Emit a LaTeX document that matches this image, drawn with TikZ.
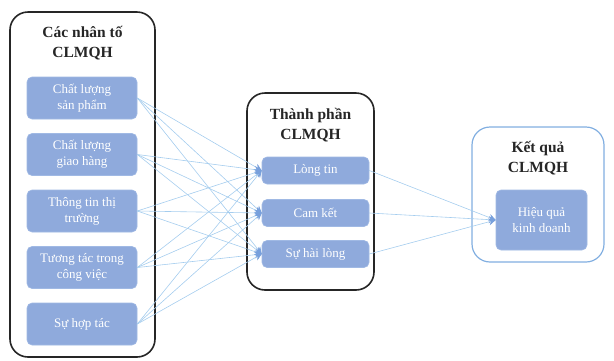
\documentclass[tikz,border=0pt]{standalone}
\usepackage{fontspec}
\setmainfont{Liberation Serif}
\usetikzlibrary{arrows.meta}
\definecolor{boxfill}{RGB}{143,170,220}
\definecolor{boxline}{RGB}{160,185,228}
\definecolor{linkblue}{RGB}{165,205,238}
\definecolor{tipblue}{RGB}{120,160,220}
\definecolor{frameblue}{RGB}{130,175,225}
\tikzset{
  group/.style={draw=black!85, line width=1.6pt, rounded corners=18pt, fill=white},
  groupblue/.style={draw=frameblue, line width=1.2pt, rounded corners=18pt, fill=white},
  grouptitle/.style={font=\bfseries\fontsize{15.5}{20}\selectfont, align=center, text=black!85},
  item/.style={draw=boxline, line width=0.6pt, fill=boxfill, rounded corners=5pt,
    text=white, align=center, font=\fontsize{13}{16}\selectfont, inner sep=0pt},
  link/.style={draw=linkblue, line width=0.6pt, -{Stealth[length=7pt,width=7pt,color=tipblue]}}
}
\begin{document}
\begin{tikzpicture}[x=1pt,y=-1pt]
\useasboundingbox (0,0) rectangle (614,360);
% containers
\node[group, minimum width=145pt, minimum height=345pt] (gA) at (82.5,184.5) {};
\node[group, minimum width=127pt, minimum height=197pt] (gB) at (310.5,191.5) {};
\node[groupblue, minimum width=132pt, minimum height=135pt] (gC) at (538,194.5) {};
% titles
\node[grouptitle] (tA) at (82.5,43) {Các nhân tố\\CLMQH};
\node[grouptitle] (tB) at (310.5,125) {Thành phần\\CLMQH};
\node[grouptitle] (tC) at (538,158) {Kết quả\\CLMQH};
% factors
\node[item, minimum width=110pt, minimum height=42pt] (l1) at (82,98) {Chất lượng\\sản phẩm};
\node[item, minimum width=110pt, minimum height=42pt] (l2) at (82,154.5) {Chất lượng\\giao hàng};
\node[item, minimum width=110pt, minimum height=42pt] (l3) at (82,211) {Thông tin thị\\trường};
\node[item, minimum width=110pt, minimum height=42pt] (l4) at (82,267.5) {Tương tác trong\\công việc};
\node[item, minimum width=110pt, minimum height=42pt] (l5) at (82,324) {Sự hợp tác};
% components
\node[item, minimum width=107pt, minimum height=27pt] (m1) at (315.5,170.5) {Lòng tin};
\node[item, minimum width=107pt, minimum height=27pt] (m2) at (315.5,213) {Cam kết};
\node[item, minimum width=107pt, minimum height=27pt] (m3) at (315.5,254) {Sự hài lòng};
% outcome
\node[item, minimum width=91pt, minimum height=60pt] (r1) at (541.5,220) {Hiệu quả\\kinh doanh};
% links
\foreach \a in {l1,l2,l3,l4,l5}{
  \foreach \b in {m1,m2,m3}{
    \draw[link] (\a.east) -- (\b.west);
  }
}
\foreach \b in {m1,m2,m3}{
  \draw[link] (\b.east) -- (r1.west);
}
\end{tikzpicture}
\end{document}
